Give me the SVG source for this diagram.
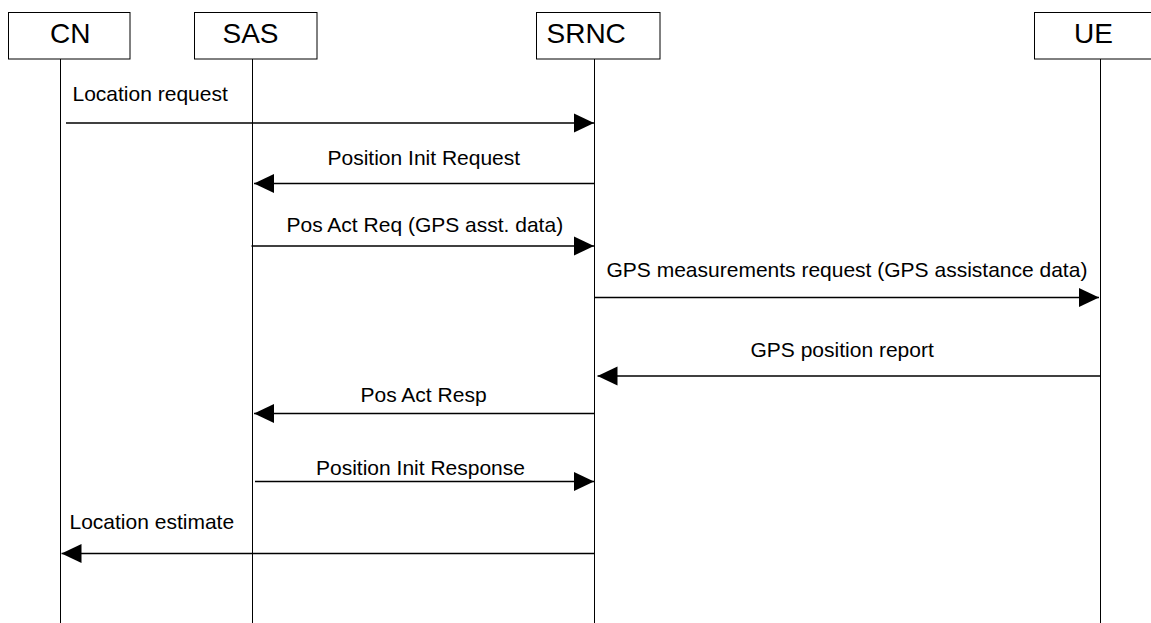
<svg xmlns="http://www.w3.org/2000/svg" width="1151" height="623" viewBox="0 0 1151 623">
  <style>
    .box { fill: #ffffff; stroke: #000000; stroke-width: 1; }
    .life { stroke: #000000; stroke-width: 1; fill: none; }
    .msg { stroke: #000000; stroke-width: 1.5; fill: none; marker-end: url(#ah); }
    .title { font-family: "Liberation Sans", Arial, sans-serif; font-size: 28px; fill: #000000; }
    .label { font-family: "Liberation Sans", Arial, sans-serif; font-size: 21px; fill: #000000; }
  </style>
  <defs>
    <marker id="ah" markerUnits="userSpaceOnUse" markerWidth="20" markerHeight="20" refX="20" refY="10" orient="auto">
      <path d="M0,0.5 L20,10 L0,19.5 Z" fill="#000000"/>
    </marker>
  </defs>
  <rect width="1151" height="623" fill="#ffffff"/>

  <g id="node-CN">
    <rect class="box" x="8.5" y="12.5" width="121.5" height="46.5"/>
    <text class="title" x="50" y="42.5">CN</text>
    <line class="life" x1="60.5" y1="59" x2="60.5" y2="623"/>
  </g>
  <g id="node-SAS">
    <rect class="box" x="194.5" y="12.5" width="122.5" height="46.5"/>
    <text class="title" x="222.5" y="42.5">SAS</text>
    <line class="life" x1="252.5" y1="59" x2="252.5" y2="623"/>
  </g>
  <g id="node-SRNC">
    <rect class="box" x="536.5" y="12.5" width="123.5" height="46.5"/>
    <text class="title" x="546.5" y="42.5">SRNC</text>
    <line class="life" x1="594.5" y1="59" x2="594.5" y2="623"/>
  </g>
  <g id="node-UE">
    <rect class="box" x="1034.5" y="12.5" width="130" height="46.5"/>
    <text class="title" x="1074" y="42.5">UE</text>
    <line class="life" x1="1100.5" y1="59" x2="1100.5" y2="623"/>
  </g>

  <g id="connectors">
    <line class="msg" x1="66" y1="123" x2="594" y2="123"/>
    <text class="label" x="72.5" y="100.5">Location request</text>

    <line class="msg" x1="595" y1="183.5" x2="254" y2="183.5"/>
    <text class="label" x="327.5" y="165">Position Init Request</text>

    <line class="msg" x1="251.5" y1="246" x2="594" y2="246"/>
    <text class="label" x="286.5" y="231.5">Pos Act Req (GPS asst. data)</text>

    <line class="msg" x1="595" y1="297.5" x2="1099" y2="297.5"/>
    <text class="label" x="606.5" y="276.5">GPS measurements request (GPS assistance data)</text>

    <line class="msg" x1="1100" y1="376" x2="597.5" y2="376"/>
    <text class="label" x="750.5" y="356.5">GPS position report</text>

    <line class="msg" x1="594" y1="413.5" x2="254" y2="413.5"/>
    <text class="label" x="360.5" y="401.5">Pos Act Resp</text>

    <line class="msg" x1="255" y1="481.5" x2="594" y2="481.5"/>
    <text class="label" x="316" y="475">Position Init Response</text>

    <line class="msg" x1="594" y1="553.5" x2="61.5" y2="553.5"/>
    <text class="label" x="69.5" y="528.5">Location estimate</text>
  </g>
</svg>
